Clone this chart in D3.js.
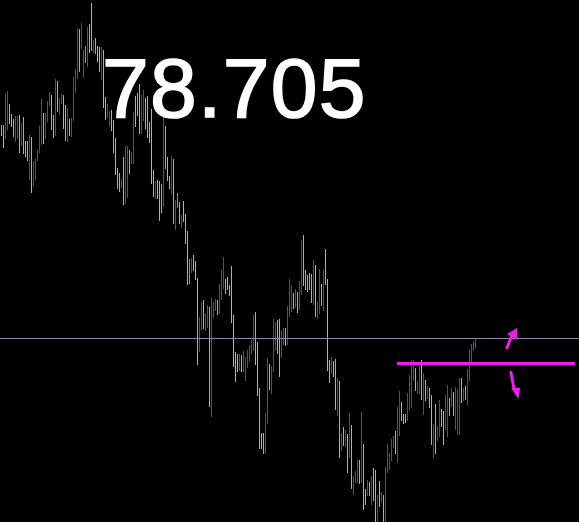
<!DOCTYPE html>
<html><head><meta charset="utf-8">
<script src="https://cdn.jsdelivr.net/npm/d3@7/dist/d3.min.js"></script>
<style>html,body{margin:0;padding:0;background:#000;overflow:hidden}</style>
</head><body>
<svg id="chart" width="579" height="522"></svg>
<script>
// bar highs (price)
const highs = [78.918,78.918,78.949,78.952,78.939,78.929,78.924,78.927,78.927,78.928,
78.920,78.926,78.902,78.902,78.908,78.906,78.882,78.884,78.893,78.917,
78.944,78.930,78.930,78.942,78.951,78.948,78.928,78.964,78.962,78.945,
78.949,78.948,78.938,78.935,78.924,78.925,78.966,78.974,79.014,79.014,
79.020,78.993,78.997,79.016,79.019,79.040,79.003,79.005,78.997,78.996,
78.996,78.993,78.946,78.939,78.932,78.933,78.923,78.905,78.875,78.870,
78.864,78.886,78.897,78.897,78.893,78.891,78.931,78.947,78.950,78.959,
78.948,78.953,78.945,78.947,78.921,78.934,78.873,78.862,78.863,78.862,
78.859,78.927,78.917,78.886,78.867,78.887,78.884,78.843,78.850,78.841,
78.828,78.842,78.829,78.812,78.784,78.785,78.788,78.782,78.765,78.726,
78.741,78.743,78.730,78.738,78.736,78.745,78.741,78.744,78.743,78.759,
78.773,78.786,78.764,78.766,78.758,78.777,78.728,78.691,78.689,78.689,
78.688,78.692,78.686,78.693,78.698,78.703,78.728,78.731,78.701,78.655,
78.610,78.610,78.630,78.685,78.679,78.677,78.724,78.721,78.723,78.724,
78.713,78.715,78.715,78.737,78.764,78.758,78.750,78.754,78.751,78.762,
78.803,78.808,78.773,78.768,78.770,78.769,78.783,78.778,78.741,78.774,
78.759,78.773,78.794,78.764,78.683,78.686,78.682,78.684,78.665,78.662,
78.610,78.616,78.613,78.609,78.630,78.618,78.567,78.572,78.583,78.583,
78.631,78.599,78.554,78.563,78.561,78.567,78.575,78.573,78.548,78.562,
78.551,78.548,78.576,78.599,78.590,78.604,78.607,78.612,78.636,78.652,
78.641,78.629,78.629,78.650,78.668,78.683,78.683,78.675,78.662,78.677,
78.683,78.670,78.663,78.657,78.655,78.648,78.619,78.639,78.617,78.643,
78.634,78.632,78.648,78.658,78.645,78.655,78.651,78.656,78.654,78.665,
78.665,78.655,78.657,78.674,78.693,78.699,78.702,78.705];

// bar lows (price)
const lows = [78.908,78.896,78.905,78.914,78.920,78.917,78.907,78.902,78.905,78.891,
78.898,78.890,78.887,78.883,78.864,78.851,78.858,78.864,78.883,78.891,
78.899,78.900,78.905,78.922,78.938,78.914,78.906,78.908,78.932,78.929,
78.940,78.915,78.903,78.902,78.908,78.907,78.923,78.951,78.965,78.972,
78.995,78.966,78.981,78.977,78.991,78.993,78.991,78.990,78.982,78.972,
78.964,78.936,78.924,78.926,78.918,78.913,78.891,78.869,78.855,78.852,
78.856,78.839,78.840,78.846,78.870,78.880,78.880,78.917,78.928,78.910,
78.910,78.923,78.915,78.906,78.901,78.860,78.847,78.845,78.845,78.823,
78.831,78.837,78.875,78.863,78.855,78.850,78.820,78.814,78.836,78.820,
78.816,78.822,78.800,78.759,78.760,78.771,78.773,78.764,78.679,78.692,
78.714,78.715,78.713,78.716,78.637,78.627,78.726,78.733,78.729,78.730,
78.744,78.755,78.750,78.754,78.748,78.721,78.677,78.662,78.672,78.673,
78.672,78.672,78.663,78.676,78.682,78.690,78.693,78.679,78.648,78.595,
78.595,78.590,78.590,78.620,78.654,78.650,78.672,78.693,78.690,78.667,
78.686,78.699,78.698,78.699,78.727,78.732,78.735,78.736,78.731,78.734,
78.749,78.758,78.754,78.752,78.754,78.741,78.739,78.727,78.725,78.730,
78.738,78.733,78.759,78.673,78.661,78.670,78.667,78.634,78.628,78.586,
78.593,78.598,78.597,78.571,78.586,78.555,78.549,78.561,78.561,78.560,
78.561,78.534,78.539,78.548,78.548,78.539,78.543,78.513,78.513,78.537,
78.542,78.513,78.513,78.571,78.574,78.583,78.596,78.590,78.581,78.608,
78.623,78.620,78.621,78.623,78.634,78.636,78.663,78.653,78.650,78.650,
78.644,78.629,78.643,78.645,78.636,78.599,78.586,78.590,78.603,78.607,
78.617,78.599,78.614,78.607,78.628,78.637,78.628,78.614,78.609,78.609,
78.641,78.643,78.644,78.639,78.663,78.681,78.693,78.696];

// bar type: c = cyan, r = red, g = green
const barTypes = ("ccrrcccrrc" + "rcccrcrrrr" + "rcrrrccrcr" + "rccrcrrrrc" + "rrgrccrccc" +
  "rccrrccccc" + "rcrrcrrccc" + "rrcccccrcc" + "crcccrcrgc" + "rcccgrcccr" +
  "rcrrcrrrcr" + "rrcccccccr" + "crrrrrrccc" + "ccrrcrrrcc" + "rrcrrrcrcr" +
  "rcccccrcrr" + "crcccrccrc" + "rcrcrcrrrc" + "rccrcrccrc" + "rcrrrrrcrr" +
  "cccrrrrcrr" + "crcrccrcrr" + "ccrrcrcrrr" + "crcrrrrr").split("");

const priceLabel = "78.705";
const bidPrice = [78.705];
const levelPrice = [78.680];
const levelRange = [198, 287];      // bar index span of the horizontal level
const arrowsUp = [{i: 258, p: 78.715}];
const arrowsDown = [{i: 258.6, p: 78.644}];

const W = 579, H = 522;
const svg = d3.select("#chart");
svg.append("rect").attr("width", W).attr("height", H).attr("fill", "#000");

const n = highs.length;
const x = d3.scaleLinear().domain([0, 1]).range([1, 3]);
const y = d3.scaleLinear().domain([78.521, 79.043]).range([H, 0]);

const colors = {c: "#36e2e2", r: "#dd1b1b", g: "#2bd62b"};

svg.append("g").attr("shape-rendering", "crispEdges")
  .selectAll("rect").data(d3.range(n)).join("rect")
  .attr("x", i => x(i))
  .attr("width", 1)
  .attr("y", i => Math.round(y(highs[i])))
  .attr("height", i => Math.round(y(lows[i])) - Math.round(y(highs[i])) + 1)
  .attr("fill", i => colors[barTypes[i]]);

// bid line
svg.append("g").selectAll("line").data(bidPrice).join("line")
  .attr("x1", 0).attr("x2", W)
  .attr("y1", d => Math.round(y(d)) + 0.5).attr("y2", d => Math.round(y(d)) + 0.5)
  .attr("stroke", "#848ea0").attr("stroke-width", 1);

// magenta level
svg.append("g").selectAll("line").data(levelPrice).join("line")
  .attr("x1", x(levelRange[0])).attr("x2", x(levelRange[1]))
  .attr("y1", d => Math.round(y(d)) + 0.5).attr("y2", d => Math.round(y(d)) + 0.5)
  .attr("stroke", "#ee1cee").attr("stroke-width", 3).attr("shape-rendering", "crispEdges");

// arrows
const mag = "#ee1cee";
const up = svg.append("g").selectAll("g").data(arrowsUp).join("g")
  .attr("transform", d => `translate(${x(d.i)},${y(d.p)})`);
up.append("line").attr("x1", -10.5).attr("y1", 21).attr("x2", -5).attr("y2", 7)
  .attr("stroke", mag).attr("stroke-width", 3);
up.append("path").attr("d", "M0,0 L-10,6 L0,12 Z").attr("fill", mag);

const dn = svg.append("g").selectAll("g").data(arrowsDown).join("g")
  .attr("transform", d => `translate(${x(d.i)},${y(d.p)})`);
dn.append("line").attr("x1", -7.5).attr("y1", -28).attr("x2", -4).attr("y2", -9)
  .attr("stroke", mag).attr("stroke-width", 3);
dn.append("path").attr("d", "M0,0 L-7,-11 L2,-11 Z").attr("fill", mag);

// price text
svg.append("text").attr("x", 102).attr("y", 117)
  .attr("font-family", "'Liberation Sans', Arial, sans-serif")
  .attr("font-size", 84).attr("fill", "#fff")
  .attr("stroke", "#fff").attr("stroke-width", 1.6)
  .attr("letter-spacing", 1.3)
  .text(priceLabel);
</script>
</body></html>
